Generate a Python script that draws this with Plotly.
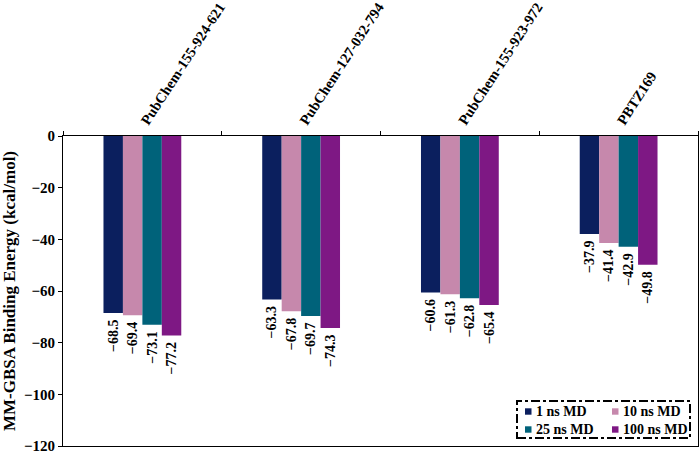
import plotly.graph_objects as go

categories = ["PubChem-155-924-621", "PubChem-127-032-794", "PubChem-155-923-972", "PBTZ169"]
series_names = ["1 ns MD", "10 ns MD", "25 ns MD", "100 ns MD"]
v_1ns = [-68.5, -63.3, -60.6, -37.9]
v_10ns = [-69.4, -67.8, -61.3, -41.4]
v_25ns = [-73.1, -69.7, -62.8, -42.9]
v_100ns = [-77.2, -74.3, -65.4, -49.8]
colors = ["#0B1F5E", "#C688AC", "#00627A", "#7E1884"]
y_ticks = [0, -20, -40, -60, -80, -100, -120]

FONT = "Liberation Serif"
series = [v_1ns, v_10ns, v_25ns, v_100ns]

def fmt(v):
    return ("\u2212" if v < 0 else "") + f"{abs(v):.1f}"

def fmt_int(v):
    return ("\u2212" if v < 0 else "") + f"{abs(v):d}"

fig = go.Figure()
for name, vals, col in zip(series_names, series, colors):
    fig.add_trace(go.Bar(
        x=categories, y=vals, name=name, marker=dict(color=col, line=dict(width=0)),
        text=[f"<b>{fmt(v)}</b>\u00a0" for v in vals], textposition="outside",
        textangle=-90, constraintext="none", cliponaxis=False,
        textfont=dict(family=FONT, size=14, color="black"),
        showlegend=False,
    ))

L, R, T, B = 63, 2, 136, 8
W, H = 700, 454
pw, ph = W - L - R, H - T - B

def px(x):
    return (x - L) / pw

def py(y):
    return (H - B - y) / ph

# Legend drawn as a dash-dot framed box with two columns
shapes = [dict(type="rect", xref="paper", yref="paper",
               x0=px(517), x1=px(690), y0=py(438), y1=py(401),
               line=dict(color="black", width=2, dash="dashdot"))]
annotations = []
leg_cols = [525, 612]
leg_rows = [411.5, 429.5]
for i, (name, col) in enumerate(zip(series_names, colors)):
    cx = leg_cols[i % 2]
    cy = leg_rows[i // 2]
    shapes.append(dict(type="rect", xref="paper", yref="paper",
                       x0=px(cx), x1=px(cx + 6.5), y0=py(cy + 3.2), y1=py(cy - 3.2),
                       fillcolor=col, line=dict(width=0)))
    annotations.append(dict(xref="paper", yref="paper", x=px(cx + 8.5), y=py(cy),
                            xanchor="left", yanchor="middle", showarrow=False,
                            text=f"<b>{name}</b>",
                            font=dict(family=FONT, size=14, color="black")))

fig.update_layout(
    width=W, height=H,
    margin=dict(l=L, r=R, t=T, b=B, autoexpand=False),
    paper_bgcolor="white", plot_bgcolor="white",
    barmode="group", bargap=0.51, bargroupgap=0,
    font=dict(family=FONT, color="black"),
    showlegend=False,
    xaxis=dict(
        side="top", type="category", showline=True, linecolor="black", linewidth=1,
        mirror=True, ticks="outside", tickson="boundaries", ticklen=4, tickcolor="black",
        tickangle=-57, showgrid=False, automargin=False,
        tickvals=categories, ticktext=[f"<b>{c}</b>" for c in categories],
        tickfont=dict(family=FONT, size=14.5, color="black"),
    ),
    yaxis=dict(
        range=[-120, 0], tickvals=y_ticks, ticktext=[f"<b>{fmt_int(v)}</b>" for v in y_ticks],
        showline=True, linecolor="black", linewidth=1,
        mirror=True, ticks="outside", ticklen=4, tickcolor="black", showgrid=False,
        zeroline=False, automargin=False, ticklabeloverflow="allow",
        tickfont=dict(family=FONT, size=15, color="black"),
        title=dict(text="<b>MM-GBSA Binding Energy (kcal/mol)</b>", standoff=6,
                   font=dict(family=FONT, size=17, color="black")),
    ),
    shapes=shapes,
    annotations=annotations,
)

fig.write_html("out.html", config={"displayModeBar": False},
               post_script="document.body.style.margin='0';document.body.style.overflow='hidden';")
